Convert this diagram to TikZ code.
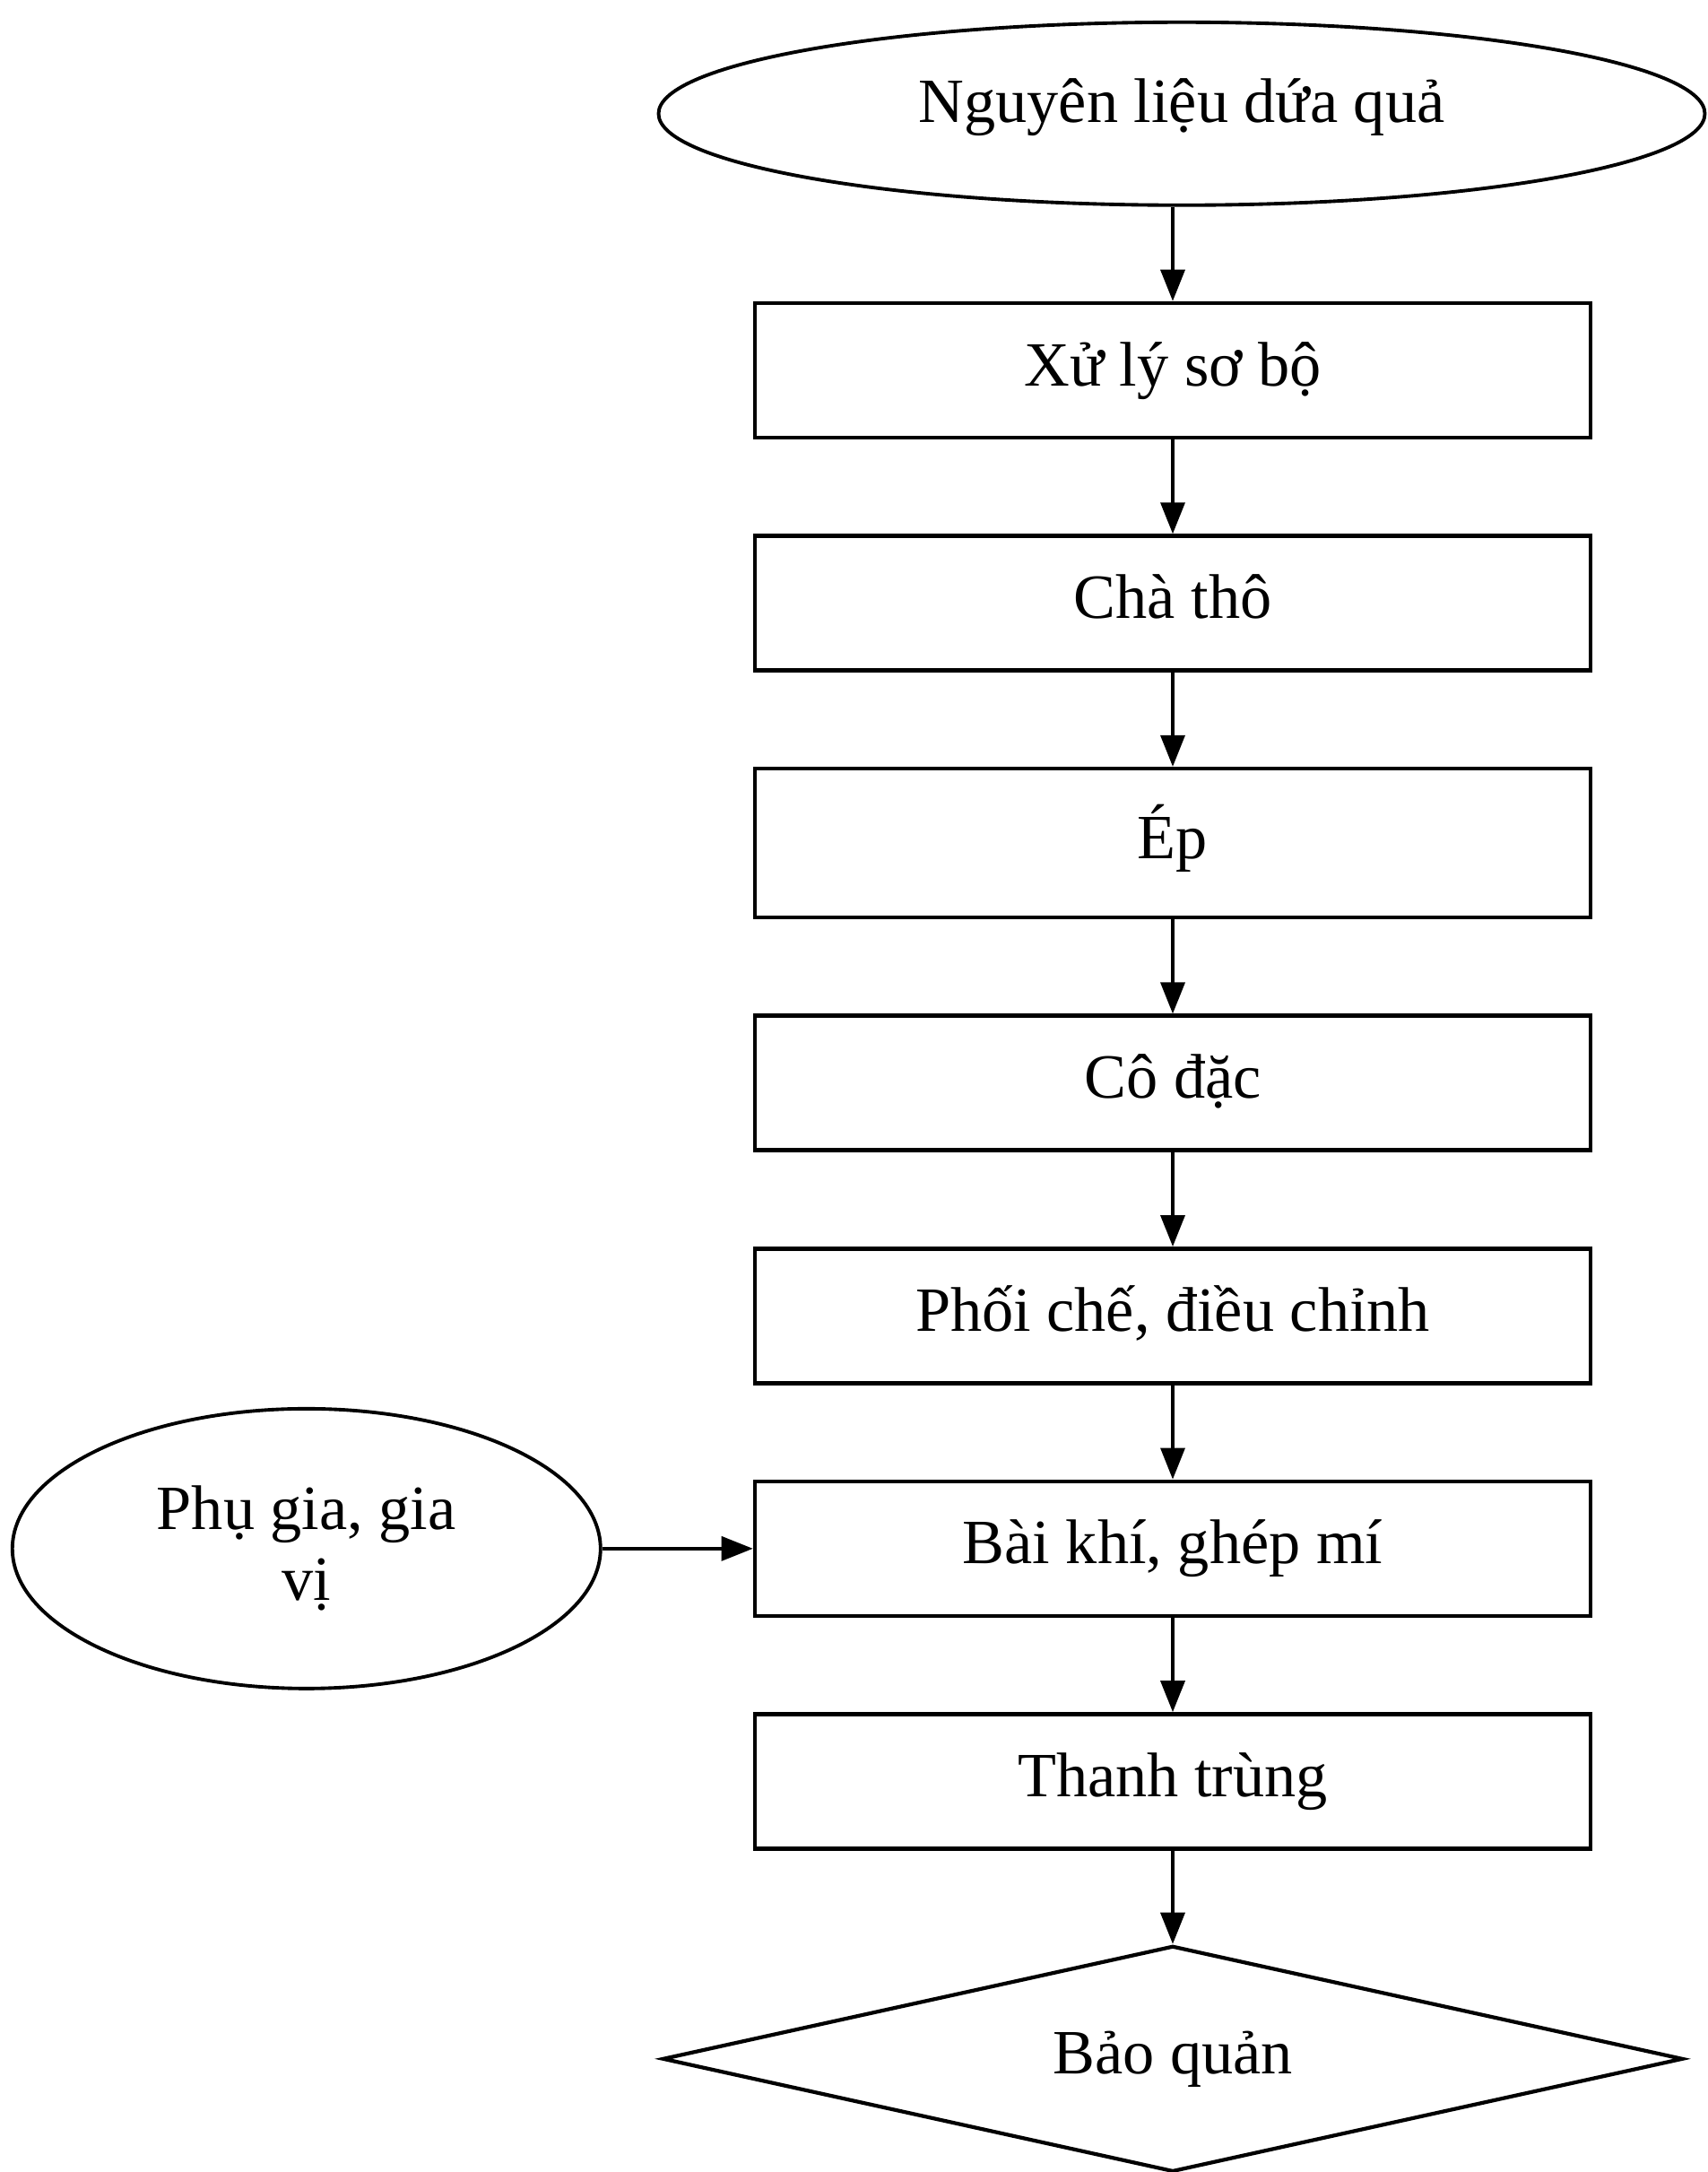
\documentclass[tikz,border=0pt]{standalone}
\usepackage{fontspec}
\setmainfont{Liberation Serif}
\usepackage{tikz}
\usetikzlibrary{positioning}
\usetikzlibrary{shapes.geometric}
\usetikzlibrary{arrows.meta}

\begin{document}
\begin{tikzpicture}[
        font=\fontsize{20}{22.5}\selectfont,
        stepbox/.style={draw, line width=1.3pt, rectangle,
            minimum width=9.32cm, minimum height=1.5cm,
            text height=0.5cm, text depth=0.16cm},
        source/.style={draw, line width=1.1pt, ellipse, inner sep=0pt},
        store/.style={draw, line width=1.2pt, diamond, aspect=4.5,
            inner sep=0pt, minimum width=11.38cm, minimum height=2.52cm,
            text height=0.5cm, text depth=0.16cm},
        flow/.style={line width=1pt, -{Triangle[length=0.35cm, width=0.27cm]}}
    ]

                \def\d{1.05cm}

                % page frame
                \useasboundingbox (0, 0) rectangle (19.04, -24.22);

                % main line of steps
                \node[stepbox] (XL) at (13.08, -4.13) {Xử lý sơ bộ};
                \node[stepbox] (CT) [below=\d of XL] {Chà thô};
                \node[stepbox, minimum height=1.66cm] (EP) [below=\d of CT]
                {Ép};
                \node[stepbox] (CD) [below=\d of EP] {Cô đặc};
                \node[stepbox] (PC) [below=\d of CD]
                {Phối chế, điều chỉnh};
                \node[stepbox] (BK) [below=\d of PC] {Bài khí, ghép mí};
                \node[stepbox] (TT) [below=\d of BK] {Thanh trùng};
                \node[store] (BQ) [below=1.04cm of TT] {Bảo quản};

                % inputs
                \node[source, minimum width=11.67cm, minimum height=2.04cm,
                    text height=0.5cm, text depth=0.31cm]
                (NL) [above=1.05cm of XL, xshift=1mm]
                {Nguyên liệu dứa quả};
                \node[source, minimum width=6.56cm, minimum height=3.12cm,
                    align=center]
                (PG) [left=1.68cm of BK] {Phụ gia, gia\\vị};

                \begin{scope}[flow]
                    \draw (NL.south -| XL.north) -- (XL.north);
                    \draw (XL) -- (CT);
                    \draw (CT) -- (EP);
                    \draw (EP) -- (CD);
                    \draw (CD) -- (PC);
                    \draw (PC) -- (BK);
                    \draw (BK) -- (TT);
                    \draw (TT) -- (BQ);
                    \draw (PG.east) -- (PG.east -| BK.west);
                \end{scope}

\end{tikzpicture}
\end{document}
